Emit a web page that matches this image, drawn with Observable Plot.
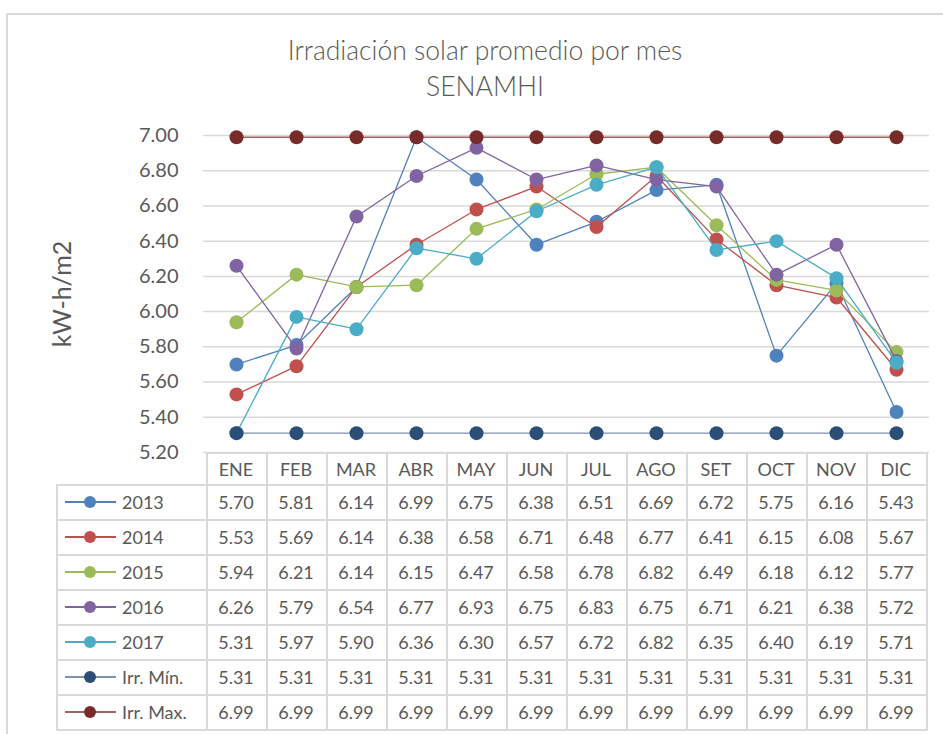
<!DOCTYPE html>
<html><head><meta charset="utf-8">
<script src="https://cdn.jsdelivr.net/npm/d3@7"></script>
<script src="https://cdn.jsdelivr.net/npm/@observablehq/plot@0.6"></script>
<style>
body{margin:0;background:#fff;font-family:Lato,"Open Sans",sans-serif;color:#595959;}
#wrap{position:relative;width:943px;height:734px;overflow:hidden;background:#fff;}
.abs{position:absolute;}
.hl{position:absolute;height:1.5px;background:#d9d9d9;}
.vl{position:absolute;width:1.5px;background:#d9d9d9;}
.cell{position:absolute;text-align:center;font-size:18px;color:#595959;line-height:1;}
</style></head>
<body><div id="wrap"></div>
<script>
const months = ["ENE","FEB","MAR","ABR","MAY","JUN","JUL","AGO","SET","OCT","NOV","DIC"];
const s2013 = [5.70,5.81,6.14,6.99,6.75,6.38,6.51,6.69,6.72,5.75,6.16,5.43];
const s2014 = [5.53,5.69,6.14,6.38,6.58,6.71,6.48,6.77,6.41,6.15,6.08,5.67];
const s2015 = [5.94,6.21,6.14,6.15,6.47,6.58,6.78,6.82,6.49,6.18,6.12,5.77];
const s2016 = [6.26,5.79,6.54,6.77,6.93,6.75,6.83,6.75,6.71,6.21,6.38,5.72];
const s2017 = [5.31,5.97,5.90,6.36,6.30,6.57,6.72,6.82,6.35,6.40,6.19,5.71];
const irrMin = [5.31,5.31,5.31,5.31,5.31,5.31,5.31,5.31,5.31,5.31,5.31,5.31];
const irrMax = [6.99,6.99,6.99,6.99,6.99,6.99,6.99,6.99,6.99,6.99,6.99,6.99];
const seriesNames = ["2013","2014","2015","2016","2017","Irr. Mín.","Irr. Max."];
const seriesValues = [s2013,s2014,s2015,s2016,s2017,irrMin,irrMax];
const yTicks = [5.2,5.4,5.6,5.8,6.0,6.2,6.4,6.6,6.8,7.0];
const markerColors = ["#4F81BD","#C0504D","#9BBB59","#8064A2","#4BACC6","#2C4D75","#772C2A"];
const lineColors = ["#4F81BD","#C0504D","#9BBB59","#8064A2","#4BACC6","#7d93b0","#a26464"];
const titleText = "Irradiación solar promedio por mes";
const subtitleText = "SENAMHI";
const yLabel = "kW-h/m2";

const wrap = document.getElementById("wrap");

// outer chart border
const bt = document.createElement("div"); bt.className="hl"; bt.style.cssText=`left:6px;top:13px;width:937px;`; wrap.appendChild(bt);
const bl = document.createElement("div"); bl.className="vl"; bl.style.cssText=`left:6px;top:13px;height:721px;`; wrap.appendChild(bl);

// title
const t = document.createElement("div");
t.className="abs";
t.style.cssText="left:235px;width:500px;top:32px;text-align:center;font-size:26.5px;line-height:36px;color:#595959;font-weight:300;";
t.innerHTML = titleText + "<br>" + subtitleText;
wrap.appendChild(t);

const data = [];
seriesNames.forEach((n,i)=>months.forEach((m,j)=>data.push({series:n, idx:i, month:m, value:seriesValues[i][j]})));

const marks = [
  Plot.gridY(yTicks, {stroke:"#d9d9d9", strokeOpacity:1, strokeWidth:1.5}),
  Plot.axisY(yTicks, {tickFormat:d=>d.toFixed(2), tickSize:0, tickPadding:25, label:null, fontSize:20}),
  Plot.text([yLabel], {frameAnchor:"left", textAnchor:"middle", dx:-141, rotate:-90, fontSize:"25px", fill:"#595959"})
];
seriesNames.forEach((n,i)=>{
  const d = data.filter(r=>r.idx===i);
  marks.push(Plot.lineY(d, {x:"month", y:"value", stroke:lineColors[i], strokeWidth:1.3}));
  marks.push(Plot.dot(d, {x:"month", y:"value", r:7, fill:markerColors[i], stroke:"none"}));
});

const plot = Plot.plot({
  width:943, height:350,
  marginTop:20, marginBottom:13, marginLeft:203, marginRight:14,
  style:{fontFamily:"Lato, 'Open Sans', sans-serif", fontSize:"20px", color:"#595959", background:"transparent", overflow:"visible"},
  x:{type:"point", domain:months, padding:0.5, axis:null},
  y:{domain:[5.2,7.0], axis:null},
  marks
});
plot.style.position="absolute"; plot.style.left="0px"; plot.style.top="115px";
wrap.appendChild(plot);

// data table aligned with the x scale
const xs = plot.scale("x");
const centers = months.map(m=>xs.apply(m));
const step = centers[1]-centers[0];
const x0 = centers[0]-step/2, x1 = centers[centers.length-1]+step/2;
const top0 = 452, headH = 32, rowH = 35, left0 = 56;
const nRows = seriesNames.length;
const bottom = top0+headH+rowH*nRows;
function add(cls, css, html){const e=document.createElement("div");e.className=cls;e.style.cssText=css;if(html!=null)e.innerHTML=html;wrap.appendChild(e);return e;}
add("hl",`left:${x0}px;top:${top0}px;width:${x1-x0+1.5}px;`);
for(let r=0;r<=nRows;r++){
  add("hl",`left:${left0}px;top:${top0+headH+rowH*r}px;width:${x1-left0+1.5}px;`);
}
add("vl",`left:${left0}px;top:${top0+headH}px;height:${rowH*nRows}px;`);
for(let c=0;c<=months.length;c++){
  add("vl",`left:${x0+step*c}px;top:${top0}px;height:${bottom-top0}px;`);
}
months.forEach((m,j)=>add("cell",`left:${x0+step*j}px;width:${step}px;top:${top0+8}px;`,m));
seriesNames.forEach((n,i)=>{
  const yTop = top0+headH+rowH*i;
  add("abs",`left:65px;top:${yTop+17}px;width:51px;height:1.5px;background:${lineColors[i]};`);
  add("abs",`left:84px;top:${yTop+11.5}px;width:12px;height:12px;border-radius:50%;background:${markerColors[i]};`);
  add("abs",`left:122px;top:${yTop+9}px;font-size:18px;line-height:1;color:#595959;white-space:nowrap;`, n);
  seriesValues[i].forEach((v,j)=>add("cell",`left:${x0+step*j}px;width:${step}px;top:${yTop+9}px;`, v.toFixed(2)));
});
</script></body></html>
